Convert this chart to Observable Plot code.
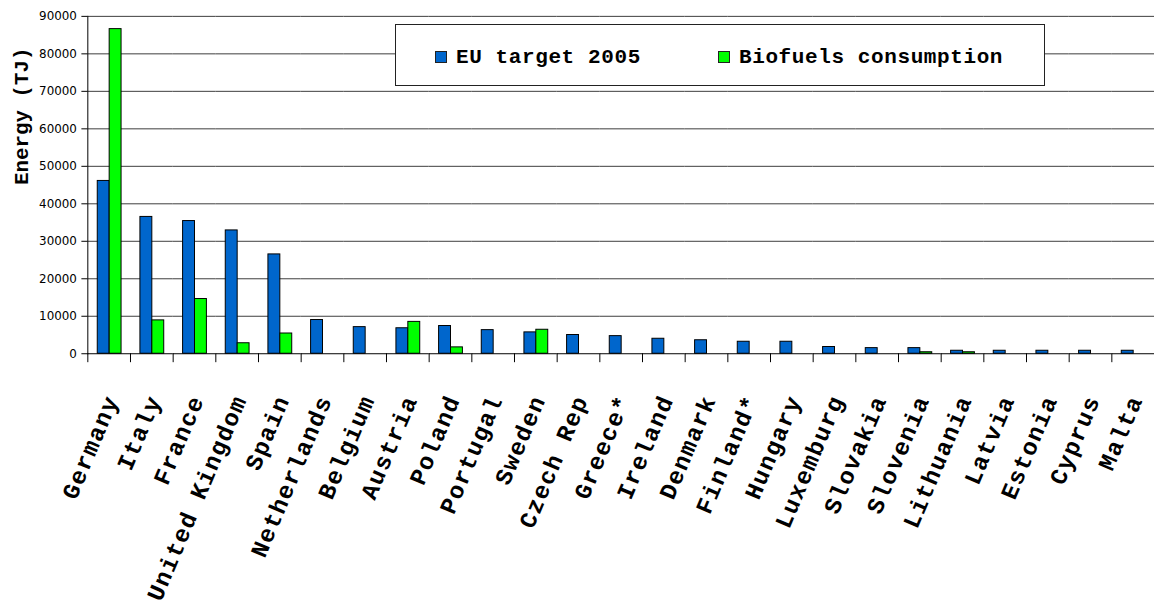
<!DOCTYPE html>
<html>
<head>
<meta charset="utf-8">
<script src="https://cdn.jsdelivr.net/npm/d3@7"></script>
<script src="https://cdn.jsdelivr.net/npm/@observablehq/plot@0.6"></script>
<style>
  html, body { margin: 0; padding: 0; background: #fff; overflow: hidden; }
  #chart { position: relative; width: 1157px; height: 610px; overflow: hidden; }
  #chart svg { display: block; }
  #chart g[aria-label="fx-axis tick label"] { letter-spacing: 1.5px; }
  .legend {
    position: absolute; left: 395px; top: 24px; width: 650px; height: 62px;
    box-sizing: border-box; border: 1px solid #222; background: #fff;
    font: bold 21px "Liberation Mono", "Courier New", monospace; letter-spacing: 0.6px; color: #000;
  }
  .legend .item { position: absolute; top: 1px; height: 62px; display: flex; align-items: center; white-space: nowrap; }
  .legend .sw { width: 10px; height: 10px; border: 1px solid #222; margin-right: 9px; flex: none; }
</style>
</head>
<body>
<div id="chart"></div>
<script>
// Countries, ordered by EU 2005 target
const countries = [
  "Germany", "Italy", "France", "United Kingdom", "Spain", "Netherlands",
  "Belgium", "Austria", "Poland", "Portugal", "Sweden", "Czech Rep",
  "Greece*", "Ireland", "Denmark", "Finland*", "Hungary", "Luxemburg",
  "Slovakia", "Slovenia", "Lithuania", "Latvia", "Estonia", "Cyprus", "Malta"
];

// EU target 2005 (TJ)
const euTarget = [
  46100, 36500, 35400, 32900, 26500, 9000,
  7100, 6800, 7400, 6300, 5700, 5000,
  4700, 4000, 3600, 3200, 3200, 1800,
  1500, 1500, 800, 800, 800, 800, 800
];

// Biofuels consumption (TJ); 0 = none reported
const biofuels = [
  86600, 8900, 14600, 2800, 5400, 0,
  0, 8500, 1700, 0, 6400, 0,
  0, 0, 0, 0, 0, 0,
  0, 400, 400, 0, 0, 0, 0
];

const seriesNames = ["EU target 2005", "Biofuels consumption"];
const seriesColors = ["#0066CC", "#00FF00"];
const yTicks = d3.range(0, 90001, 10000);
const yTitle = "Energy (TJ)";

const rows = countries.flatMap((country, i) => [
  { country, series: seriesNames[0], value: euTarget[i] },
  { country, series: seriesNames[1], value: biofuels[i] }
]).filter(d => d.value > 0);

const width = 1166, height = 610;
const marginTop = 16, marginBottom = 254, marginLeft = 84, marginRight = 0;
const plotHeight = height - marginTop - marginBottom;
const mono = "'Liberation Mono', 'Courier New', monospace";

const chart = Plot.plot({
  width, height, marginTop, marginBottom, marginLeft, marginRight,
  style: { background: "transparent", overflow: "visible" },
  fx: { domain: countries, padding: 0, label: null },
  x: { domain: seriesNames, paddingInner: 0, paddingOuter: 0.69, axis: null },
  y: { domain: [0, 90000] },
  color: { domain: seriesNames, range: seriesColors },
  marks: [
    Plot.gridY(yTicks.slice(1), { stroke: "#3c3c3c", strokeOpacity: 1, strokeWidth: 1 }),
    Plot.barY(rows, {
      fx: "country", x: "series", y: "value",
      fill: "series", stroke: "#000", strokeWidth: 1
    }),
    Plot.ruleY([0], { stroke: "#000", strokeWidth: 1 }),
    // vertical axis line, left facet only
    Plot.frame({ anchor: "left", stroke: "#000", facetAnchor: "left" }),
    // category separators below the baseline
    Plot.frame({ anchor: "left", stroke: "#000", insetTop: plotHeight, insetBottom: -8 }),
    Plot.axisY({
      ticks: yTicks, tickFormat: d => String(d), tickSize: 6, tickPadding: 5,
      fontSize: 12, fontFamily: "'DejaVu Sans', sans-serif", label: null
    }),
    Plot.text([yTitle], {
      frameAnchor: "left", rotate: -90, dx: -67, facetAnchor: "left",
      fontSize: 21, fontWeight: "bold", fontFamily: mono, fill: "#000"
    }),
    Plot.axisFx({
      anchor: "bottom", tickSize: 0, tickPadding: 43, tickRotate: -67, dx: 3,
      fontSize: 24, fontWeight: "bold", fontFamily: mono, label: null
    })
  ]
});

const host = document.getElementById("chart");
host.appendChild(chart);

// Legend box inside the plot area
const legend = document.createElement("div");
legend.className = "legend";
const itemLeft = [39, 322];
seriesNames.forEach((name, i) => {
  const item = document.createElement("div");
  item.className = "item";
  item.style.left = itemLeft[i] + "px";
  const sw = document.createElement("span");
  sw.className = "sw";
  sw.style.background = seriesColors[i];
  const label = document.createElement("span");
  label.textContent = name;
  item.append(sw, label);
  legend.appendChild(item);
});
host.appendChild(legend);
</script>
</body>
</html>
